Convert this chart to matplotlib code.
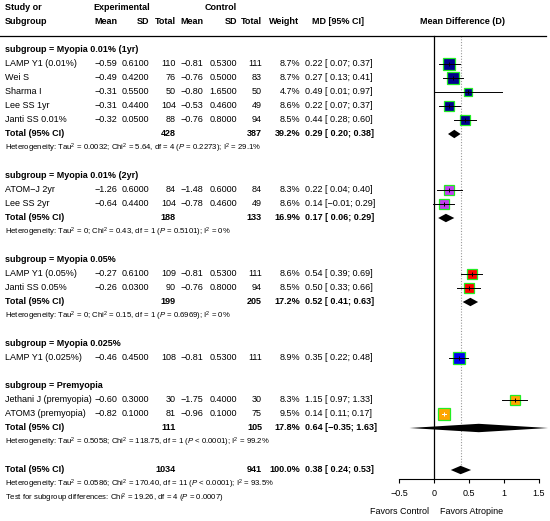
import matplotlib

matplotlib.use("Agg")
import matplotlib.pyplot as plt
from matplotlib.transforms import blended_transform_factory

plt.rcParams["font.family"] = ["Liberation Sans", "DejaVu Sans"]
plt.rcParams["mathtext.fontset"] = "custom"
plt.rcParams["mathtext.rm"] = "Liberation Sans"
plt.rcParams["mathtext.it"] = "Liberation Sans:italic"
plt.rcParams["mathtext.bf"] = "Liberation Sans:bold"

# study level data
study_names = [
    "LAMP Y1 (0.01%)", "Wei S", "Sharma I", "Lee SS 1yr", "Janti SS 0.01%",
    "ATOM\u2212J 2yr", "Lee SS 2yr",
    "LAMP Y1 (0.05%)", "Janti SS 0.05%",
    "LAMP Y1 (0.025%)",
    "Jethani J (premyopia)", "ATOM3 (premyopia)",
]
study_group = [0, 0, 0, 0, 0, 1, 1, 2, 2, 3, 4, 4]
exp_mean = [-0.59, -0.49, -0.31, -0.31, -0.32, -1.26, -0.64, -0.27, -0.26, -0.46, -0.60, -0.82]
exp_sd = [0.61, 0.42, 0.55, 0.44, 0.05, 0.60, 0.44, 0.61, 0.03, 0.45, 0.30, 0.10]
exp_n = [110, 76, 50, 104, 88, 84, 104, 109, 90, 108, 30, 81]
ctrl_mean = [-0.81, -0.76, -0.80, -0.53, -0.76, -1.48, -0.78, -0.81, -0.76, -0.81, -1.75, -0.96]
ctrl_sd = [0.53, 0.50, 1.65, 0.46, 0.80, 0.60, 0.46, 0.53, 0.80, 0.53, 0.40, 0.10]
ctrl_n = [111, 83, 50, 49, 94, 84, 49, 111, 94, 111, 30, 75]
weight = [8.7, 8.7, 4.7, 8.6, 8.5, 8.3, 8.6, 8.6, 8.5, 8.9, 8.3, 9.5]
md = [0.22, 0.27, 0.49, 0.22, 0.44, 0.22, 0.14, 0.54, 0.50, 0.35, 1.15, 0.14]
md_lo = [0.07, 0.13, 0.01, 0.07, 0.28, 0.04, -0.01, 0.39, 0.33, 0.22, 0.97, 0.11]
md_hi = [0.37, 0.41, 0.97, 0.37, 0.60, 0.40, 0.29, 0.69, 0.66, 0.48, 1.33, 0.17]

# subgroup summaries (None where the subgroup has a single study)
group_names = ["Myopia 0.01% (1yr)", "Myopia 0.01% (2yr)", "Myopia 0.05%", "Myopia 0.025%", "Premyopia"]
group_colors = ["#00008B", "#C23CF0", "#FF0000", "#0000F0", "#FFA500"]
group_exp_n = [428, 188, 199, None, 111]
group_ctrl_n = [387, 133, 205, None, 105]
group_weight = [39.2, 16.9, 17.2, None, 17.8]
group_md = [0.29, 0.17, 0.52, None, 0.64]
group_lo = [0.20, 0.06, 0.41, None, -0.35]
group_hi = [0.38, 0.29, 0.63, None, 1.63]
group_het = [
    r"Heterogeneity: Tau$^2$ = 0.0032; Chi$^2$ = 5.64, df = 4 ($P$ = 0.2273); I$^2$ = 29.1%",
    r"Heterogeneity: Tau$^2$ = 0; Chi$^2$ = 0.43, df = 1 ($P$ = 0.5101); I$^2$ = 0%",
    r"Heterogeneity: Tau$^2$ = 0; Chi$^2$ = 0.15, df = 1 ($P$ = 0.6969); I$^2$ = 0%",
    None,
    r"Heterogeneity: Tau$^2$ = 0.5058; Chi$^2$ = 118.75, df = 1 ($P$ < 0.0001); I$^2$ = 99.2%",
]

overall_exp_n = 1034
overall_ctrl_n = 941
overall_weight = 100.0
overall_md = 0.38
overall_lo = 0.24
overall_hi = 0.53
overall_het = r"Heterogeneity: Tau$^2$ = 0.0586; Chi$^2$ = 170.40, df = 11 ($P$ < 0.0001); I$^2$ = 93.5%"
subgroup_test = r"Test for subgroup differences: Chi$^2$ = 19.26, df = 4 ($P$ = 0.0007)"

x_ticks = [-0.5, 0, 0.5, 1, 1.5]
x_tick_labels = ["\u22120.5", "0", "0.5", "1", "1.5"]

# layout: pixel based, 70 px per MD unit, 14 px per row
W_PX, H_PX = 550, 521
ZERO_PX = 434
UNIT_PX = 70
ROW0_PX = 50
ROW_PX = 14
FS = 6.5
FS_SMALL = 5.6
EDGE = "#22EE22"


def num(v, fmt):
    return format(v, fmt).replace("-", "\u2212")


def ci_text(est, lo, hi):
    return f"{num(est, '.2f')} [{num(lo, '5.2f')}; {num(hi, '.2f')}]".replace(" \u2212", "\u2212")


def square_px(w):
    return 3.73 * w ** 0.5


def main() -> None:
    fig = plt.figure(figsize=(W_PX / 100, H_PX / 100), dpi=100)
    ax = fig.add_axes([0, 0, 1, 1])
    ax.set_xlim(-ZERO_PX / UNIT_PX, (W_PX - ZERO_PX) / UNIT_PX)
    ax.set_ylim((H_PX - ROW0_PX) / ROW_PX, -ROW0_PX / ROW_PX)
    tr = blended_transform_factory(ax.transAxes, ax.transData)

    def col(px):
        return px / W_PX

    def put(px, row, s, ha="right", bold=False, size=FS):
        ax.text(col(px), row, s, transform=tr, ha=ha, va="center", fontsize=size,
                fontweight="bold" if bold else "normal")

    # column headers
    put(5, -3, "Study or", ha="left", bold=True)
    put(122, -3, "Experimental", ha="center", bold=True)
    put(221, -3, "Control", ha="center", bold=True)
    put(5, -2, "Subgroup", ha="left", bold=True)
    for px, s in [(117, "Mean"), (149, "SD"), (176, "Total"), (203, "Mean"),
                  (237, "SD"), (262, "Total"), (299, "Weight")]:
        put(px, -2, s, bold=True)
    put(338, -2, "MD [95% CI]", ha="center", bold=True)
    ax.text(0.4, -2, "Mean Difference (D)", ha="center", va="center", fontsize=FS, fontweight="bold")
    ax.axhline(-1, xmin=0, xmax=546 / W_PX, color="black", lw=0.9)

    def diamond(est, lo, hi, row):
        h = 0.3
        ax.fill([lo, est, hi, est], [row, row - h, row, row + h], color="black", lw=0, zorder=4)

    row = 0
    for g, gname in enumerate(group_names):
        put(5, row, f"subgroup = {gname}", ha="left", bold=True)
        row += 1
        for i in [k for k, sg in enumerate(study_group) if sg == g]:
            put(5, row, study_names[i], ha="left")
            put(117, row, num(exp_mean[i], ".2f"))
            put(149, row, num(exp_sd[i], ".4f"))
            put(176, row, str(exp_n[i]))
            put(203, row, num(ctrl_mean[i], ".2f"))
            put(237, row, num(ctrl_sd[i], ".4f"))
            put(262, row, str(ctrl_n[i]))
            put(300, row, f"{weight[i]:.1f}%")
            put(305, row, ci_text(md[i], md_lo[i], md_hi[i]), ha="left")

            side = square_px(weight[i])
            half = side / 2 / UNIT_PX
            ax.plot([md[i]], [row], marker="s", ms=side * 0.72, mfc=group_colors[g],
                    mec=EDGE, mew=0.9, zorder=3)
            inside = (md_lo[i] >= md[i] - half) and (md_hi[i] <= md[i] + half)
            lc = "white" if inside else "black"
            ax.plot([md_lo[i], md_hi[i]], [row, row], color=lc, lw=0.7, zorder=3.5)
            ax.plot([md[i]], [row], marker="|", ms=3, color=lc, mew=0.7, zorder=3.5)
            row += 1
        if group_md[g] is not None:
            put(5, row, "Total (95% CI)", ha="left", bold=True)
            put(176, row, str(group_exp_n[g]), bold=True)
            put(262, row, str(group_ctrl_n[g]), bold=True)
            put(300, row, f"{group_weight[g]:.1f}%", bold=True)
            put(305, row, ci_text(group_md[g], group_lo[g], group_hi[g]), ha="left", bold=True)
            diamond(group_md[g], group_lo[g], group_hi[g], row)
            row += 1
            put(5, row, group_het[g], ha="left", size=FS_SMALL)
            row += 1
        row += 1

    overall_row = row
    put(5, row, "Total (95% CI)", ha="left", bold=True)
    put(176, row, str(overall_exp_n), bold=True)
    put(262, row, str(overall_ctrl_n), bold=True)
    put(300, row, f"{overall_weight:.1f}%", bold=True)
    put(305, row, ci_text(overall_md, overall_lo, overall_hi), ha="left", bold=True)
    diamond(overall_md, overall_lo, overall_hi, row)
    put(5, row + 1, overall_het, ha="left", size=FS_SMALL)
    put(5, row + 2, subgroup_test, ha="left", size=FS_SMALL)

    axis_row = (479 - ROW0_PX) / ROW_PX
    ax.plot([0, 0], [-1, axis_row], color="black", lw=0.9, zorder=2)
    ax.plot([overall_md, overall_md], [-1, overall_row], color="#999999", lw=0.8,
            ls=(0, (1, 1.5)), zorder=1)

    for s in ["top", "left", "right"]:
        ax.spines[s].set_visible(False)
    ax.spines["bottom"].set_position(("data", axis_row))
    ax.spines["bottom"].set_bounds(x_ticks[0], x_ticks[-1])
    ax.spines["bottom"].set_linewidth(0.8)
    ax.set_xticks(x_ticks)
    ax.set_xticklabels(x_tick_labels, fontsize=FS)
    ax.tick_params(axis="x", direction="out", length=3, width=0.8, pad=4)
    ax.set_yticks([])

    fav_row = (511 - ROW0_PX) / ROW_PX
    ax.text(-0.486, fav_row, "Favors Control", ha="center", va="center", fontsize=FS)
    ax.text(0.53, fav_row, "Favors Atropine", ha="center", va="center", fontsize=FS)

    fig.savefig("out.png", dpi=100)
    plt.close(fig)


if __name__ == "__main__":
    main()
